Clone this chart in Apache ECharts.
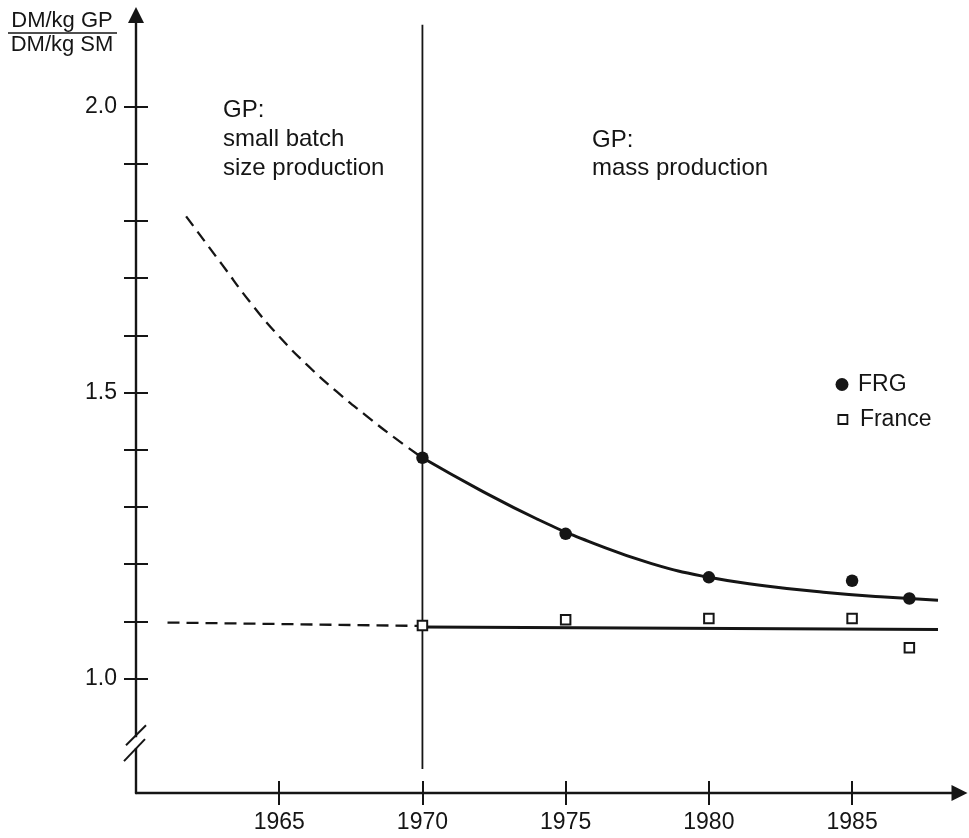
<!DOCTYPE html>
<html>
<head>
<meta charset="utf-8">
<style>
  html, body { margin: 0; padding: 0; background: #ffffff; }
  #chart { width: 969px; height: 838px; }
</style>
<script src="https://cdn.jsdelivr.net/npm/echarts@6/dist/echarts.min.js"></script>
</head>
<body>
<div id="chart"></div>
<script>
// observed points
var years = [1970, 1975, 1980, 1985, 1987];
var frgValues = [1.386, 1.253, 1.177, 1.171, 1.140];
var franceValues = [1.093, 1.103, 1.105, 1.105, 1.054];

// fitted trend lines
var frgPastYears = [1961.75, 1963, 1964, 1965, 1966, 1967, 1968, 1969, 1970];
var frgPastValues = [1.808, 1.724, 1.657, 1.598, 1.547, 1.502, 1.461, 1.422, 1.386];
var frgTrendYears = [1970, 1972, 1974, 1976, 1978, 1980, 1982, 1984, 1986, 1988];
var frgTrendValues = [1.386, 1.330, 1.279, 1.236, 1.201, 1.177, 1.162, 1.151, 1.143, 1.137];
var francePastYears = [1961.1, 1970];
var francePastValues = [1.098, 1.092];
var franceTrendYears = [1970, 1988];
var franceTrendValues = [1.090, 1.086];

// axes
var xTicks = [1965, 1970, 1975, 1980, 1985];
var yTicks = [1.0, 1.1, 1.2, 1.3, 1.4, 1.5, 1.6, 1.7, 1.8, 1.9, 2.0];
var yLabels = [1.0, 1.5, 2.0];
var dividerYear = 1970;
var dividerSpan = [0.842, 2.143];

var ink = '#151515';
var font = '"Liberation Sans", Arial, sans-serif';

function zip(xs, ys) {
  return xs.map(function (x, i) { return [x, ys[i]]; });
}

var chart = echarts.init(document.getElementById('chart'), null, { renderer: 'canvas' });

// two axes per direction so the ticks cross the axis line
function valueAxis(min, max, ticks, labels, inside, main, fmt) {
  var isX = main === 'x' || main === 'x2';
  return {
    type: 'value',
    min: min,
    max: max,
    position: isX ? 'bottom' : 'left',
    offset: 0,
    axisLine: {
      show: main === 'x' || main === 'y',
      onZero: false,
      symbol: ['none', 'triangle'],
      symbolSize: [16, 16],
      lineStyle: { color: ink, width: 2.4 }
    },
    axisTick: {
      show: true,
      inside: inside,
      length: 12,
      customValues: ticks,
      lineStyle: { color: ink, width: 2 }
    },
    axisLabel: {
      show: !!labels,
      customValues: labels || [],
      margin: isX ? 18 : 19,
      color: ink,
      fontSize: 23,
      fontFamily: font,
      formatter: fmt
    },
    splitLine: { show: false }
  };
}

function legendBox(name, icon, size, left, top, pad, style) {
  return {
    orient: 'vertical',
    left: left,
    top: top,
    itemWidth: size,
    itemHeight: size,
    textStyle: { color: ink, fontSize: 23, fontFamily: font, padding: [0, 0, 0, pad] },
    data: [{ name: name, icon: icon, itemStyle: style }]
  };
}

chart.setOption({
  animation: false,
  backgroundColor: '#ffffff',
  grid: { left: 136, right: 9.5, top: 15, bottom: 45 },
  xAxis: [
    valueAxis(1960, 1988.75, xTicks, xTicks, true, 'x', function (v) { return String(v); }),
    valueAxis(1960, 1988.75, xTicks, null, false, 'x2')
  ],
  yAxis: [
    valueAxis(0.8, 2.16, yTicks, yLabels, true, 'y', function (v) { return v.toFixed(1); }),
    valueAxis(0.8, 2.16, yTicks, null, false, 'y2')
  ],
  legend: [
    legendBox('FRG', 'circle', 13, 830.5, 368, 4.5, { color: ink, opacity: 1 }),
    legendBox('France', 'rect', 9, 832.5, 403, 7.5, { color: '#ffffff', borderColor: ink, borderWidth: 1.8 })
  ],
  series: [
    {
      name: 'divider',
      type: 'line',
      data: [[dividerYear, dividerSpan[0]], [dividerYear, dividerSpan[1]]],
      symbol: 'none',
      lineStyle: { color: ink, width: 1.8 },
      silent: true,
      z: 1
    },
    {
      name: 'frgPast',
      type: 'line',
      data: zip(frgPastYears, frgPastValues),
      smooth: true,
      symbol: 'none',
      lineStyle: { color: ink, width: 2.3, type: [12, 7] },
      z: 2
    },
    {
      name: 'frgTrend',
      type: 'line',
      data: zip(frgTrendYears, frgTrendValues),
      smooth: true,
      symbol: 'none',
      lineStyle: { color: ink, width: 3 },
      z: 2
    },
    {
      name: 'francePast',
      type: 'line',
      data: zip(francePastYears, francePastValues),
      symbol: 'none',
      lineStyle: { color: ink, width: 2.3, type: [12, 7] },
      z: 2
    },
    {
      name: 'franceTrend',
      type: 'line',
      data: zip(franceTrendYears, franceTrendValues),
      symbol: 'none',
      lineStyle: { color: ink, width: 3 },
      z: 2
    },
    {
      name: 'FRG',
      type: 'scatter',
      data: zip(years, frgValues),
      symbol: 'circle',
      symbolSize: 12.5,
      itemStyle: { color: ink, opacity: 1 },
      z: 3
    },
    {
      name: 'France',
      type: 'scatter',
      data: zip(years, franceValues),
      symbol: 'rect',
      symbolSize: 9.5,
      itemStyle: { color: '#ffffff', borderColor: ink, borderWidth: 2, opacity: 1 },
      z: 3
    }
  ]
});

// axis break on the y axis, placed through the axes
var b1 = chart.convertToPixel({ xAxisIndex: 0, yAxisIndex: 0 }, [1960, 0.901]);
var b2 = chart.convertToPixel({ xAxisIndex: 0, yAxisIndex: 0 }, [1960, 0.875]);

function txt(s, x, y, size, align) {
  return {
    type: 'text',
    style: {
      text: s, x: x, y: y, fill: ink,
      font: size + 'px ' + font,
      align: align || 'left', verticalAlign: 'middle'
    }
  };
}

chart.setOption({
  graphic: [
    // y axis title as a fraction
    txt('DM/kg GP', 62, 21, 22, 'center'),
    { type: 'line', shape: { x1: 8, y1: 33, x2: 117, y2: 33 }, style: { stroke: ink, lineWidth: 1.6 } },
    txt('DM/kg SM', 62, 45, 22, 'center'),
    // annotations
    txt('GP:', 223, 110, 24),
    txt('small batch', 223, 139, 24),
    txt('size production', 223, 168, 24),
    txt('GP:', 592, 140, 24),
    txt('mass production', 592, 168, 24),
    // break marks
    { type: 'rect', shape: { x: b1[0] - 3, y: b1[1] + 2, width: 6, height: b2[1] - b1[1] - 4 }, style: { fill: '#ffffff' }, z: 10 },
    { type: 'line', shape: { x1: b1[0] - 10, y1: b1[1] + 10, x2: b1[0] + 10, y2: b1[1] - 10 }, style: { stroke: ink, lineWidth: 2 }, z: 11 },
    { type: 'line', shape: { x1: b2[0] - 12, y1: b2[1] + 11, x2: b2[0] + 9, y2: b2[1] - 11 }, style: { stroke: ink, lineWidth: 2 }, z: 11 }
  ]
});
</script>
</body>
</html>
